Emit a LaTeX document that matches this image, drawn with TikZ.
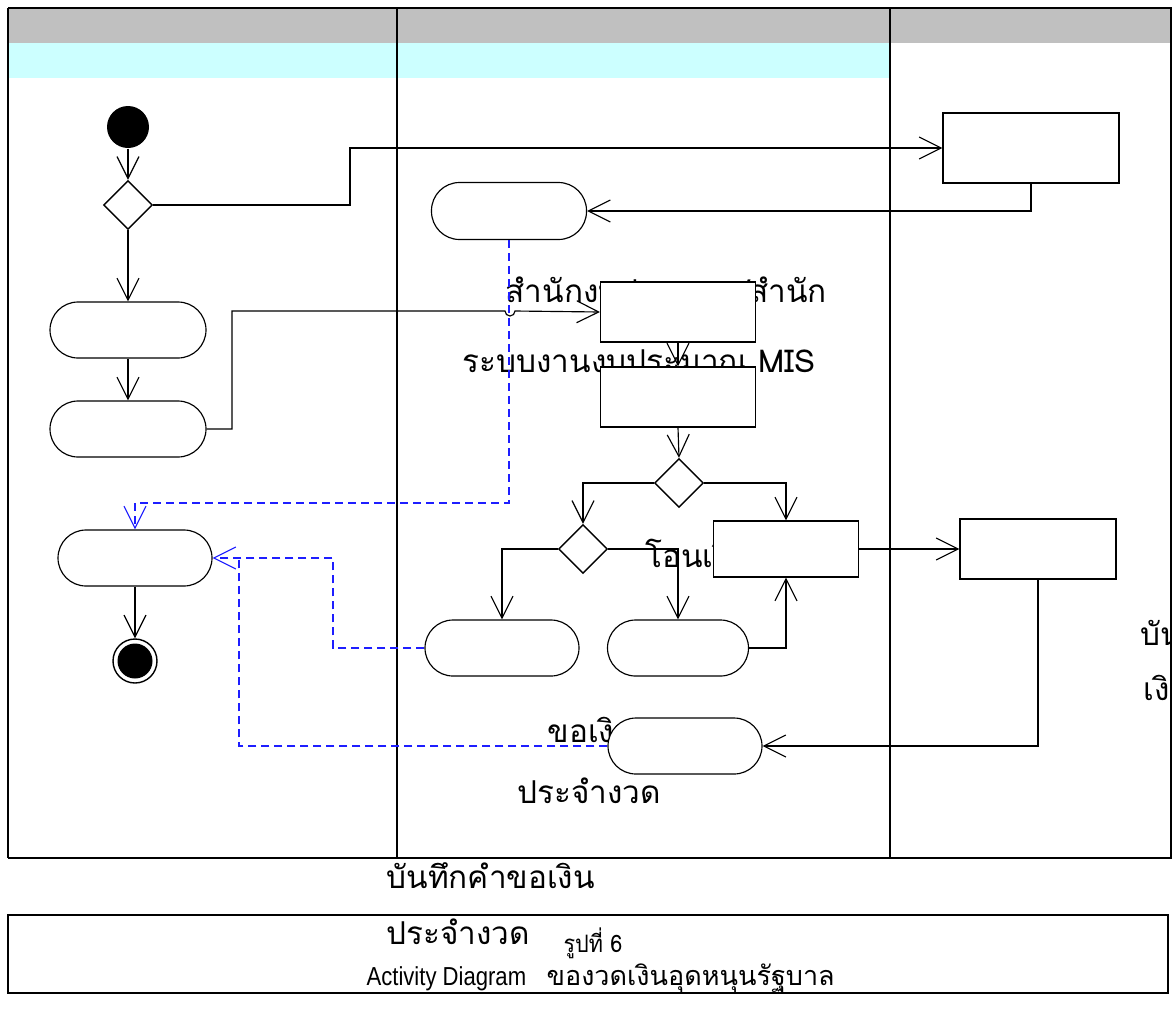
\documentclass[tikz,border=0pt]{standalone}
\usepackage{fontspec}
\usetikzlibrary{arrows.meta,shapes.geometric,calc}
\newfontfamily\thai[Script=Thai]{Loma}
\setmainfont{Liberation Sans}
\definecolor{hdrgray}{RGB}{192,192,192}
\definecolor{hdrcyan}{RGB}{204,255,255}
\definecolor{dashblue}{RGB}{30,30,255}
\begin{document}
\begin{tikzpicture}[x=1pt,y=-1pt,
  line width=1.15pt,
  arr/.style={-{Straight Barb[length=22pt,width=22pt,line width=1.15pt]}},
  barr/.style={dashblue,dash pattern=on 8pt off 5pt,-{Straight Barb[length=22pt,width=22pt,line width=1.15pt]}},
  bline/.style={dashblue,dash pattern=on 8pt off 5pt},
  act/.style={draw,fill=white,rounded corners=28pt,minimum width=156pt,minimum height=56pt,inner sep=0pt},
  actq/.style={act,minimum width=141pt},
  box/.style={draw,fill=white,minimum width=155pt,minimum height=60pt,inner sep=0pt},
  dec/.style={draw,fill=white,diamond,minimum width=49pt,minimum height=49pt,inner sep=0pt,line width=1.4pt},
  lbl/.style={font=\thai\fontsize{31.5}{33}\selectfont,anchor=base west,inner sep=0pt},
  lane/.style={line width=2pt}
]
\useasboundingbox (0,0) rectangle (1172,1021);
% header bands
\fill[hdrgray] (8,8) rectangle (1172,43);
\fill[hdrcyan] (8,43) rectangle (890,78);
% lanes
\draw[lane] (8,8) -- (1172,8);
\draw[lane] (8,8) -- (8,858);
\draw[lane] (397,8) -- (397,858);
\draw[lane] (890,8) -- (890,858);
\draw[line width=1.3pt] (1171,8) -- (1171,858);
\draw[lane] (8,858) -- (1172,858);

% stray labels (drawn below the boxes)
\node[lbl] (t1) at (505,302) {สำนักงบประมาณ/สำนัก};
\node[lbl] (t2) at (462,372) {ระบบงานงบประมาณ MIS};
\node[lbl] (t3) at (645,567) {โอนเงิน};
\node[lbl] (t4) at (547,742) {ขอเงิน};
\node[lbl] (t5) at (517,803) {ประจำงวด};
\node[lbl] (t6) at (386,888) {บันทึกคำขอเงิน};
\node[lbl] (t7) at (386,944) {ประจำงวด};
\node[lbl] (t8) at (1140,645) {บันทึก};
\node[lbl] (t9) at (1143,700) {เงิน};

% lane 1
\node[circle,fill=black,minimum size=42pt,inner sep=0pt] (start) at (128,127) {};
\node[dec] (d1) at (128,205) {};
\node[act] (a1) at (128,330) {};
\node[act] (a2) at (128,429) {};
\node[act,minimum width=154pt] (a3) at (135,558) {};
\node[circle,draw,line width=1.4pt,minimum size=44pt,inner sep=0pt] (stop) at (135,661) {};
\node[circle,fill=black,minimum size=35pt,inner sep=0pt] (stopin) at (135,661) {};

% lane 2
\node[act,minimum width=155pt,minimum height=57pt] (a4) at (509,211) {};
\node[box] (b1) at (678,312) {};
\node[box] (b2) at (678,397) {};
\node[dec] (d2) at (679,483) {};
\node[dec] (d3) at (583,549) {};
\node[box,minimum width=145pt,minimum height=56pt] (c1) at (786,549) {};
\node[act,minimum width=154pt] (p1) at (502,648) {};
\node[actq] (q1) at (678,648) {};
\node[act,minimum width=154pt] (s1) at (685,746) {};

% lane 3
\node[box,minimum width=176pt,minimum height=70pt] (r1) at (1031,148) {};
\node[box,minimum width=156pt,minimum height=60pt] (r2) at (1038,549) {};

% flows
\draw[arr] (start) -- (d1.north);
\draw[arr] (d1.south) -- (a1.north);
\draw[arr] (a1.south) -- (a2.north);
\draw[arr] (d1.east) -| (350,148) -- (r1.west);
\draw[arr] (r1.south) |- (a4.east);
\draw[arr] (a2.east) -| (232,311) -- (505,311) arc[start angle=180,end angle=0,radius=5] -- (b1.west);
\draw[arr] (b1.south) -- (b2.north);
\draw[arr] (b2.south) -- (d2.north);
\draw[arr] (d2.west) -| (d3.north);
\draw[arr] (d2.east) -| (c1.north);
\draw[arr] (d3.west) -| (p1.north);
\draw[arr] (d3.east) -| (q1.north);
\draw[arr] (q1.east) -| (c1.south);
\draw[arr] (c1.east) -- (r2.west);
\draw[arr] (r2.south) |- (s1.east);
\draw[arr] (a3.south) -- (stop.north);

% object flows (blue dashed)
\draw[barr] (a4.south) |- (135,503) -- (a3.north);
\draw[barr] (p1.west) -| (333,558) -- (a3.east);
\draw[bline] (s1.west) -| (239,558);

% caption
\draw[line width=2pt] (8,915) rectangle (1168,993);
\node[font=\thai\fontsize{24}{26}\selectfont,anchor=base west,inner sep=0pt] (cap1) at (563,952) {\scalebox{0.9}[1]{รูปที่ 6}};
\node[font=\fontsize{26}{28}\selectfont,anchor=base west,inner sep=0pt] (cap2) at (366,985) {\scalebox{0.85}[1]{Activity Diagram}};
\node[font=\thai\fontsize{27}{29}\selectfont,anchor=base west,inner sep=0pt] (cap3) at (546,985) {ของวดเงินอุดหนุนรัฐบาล};
\end{tikzpicture}
\end{document}
